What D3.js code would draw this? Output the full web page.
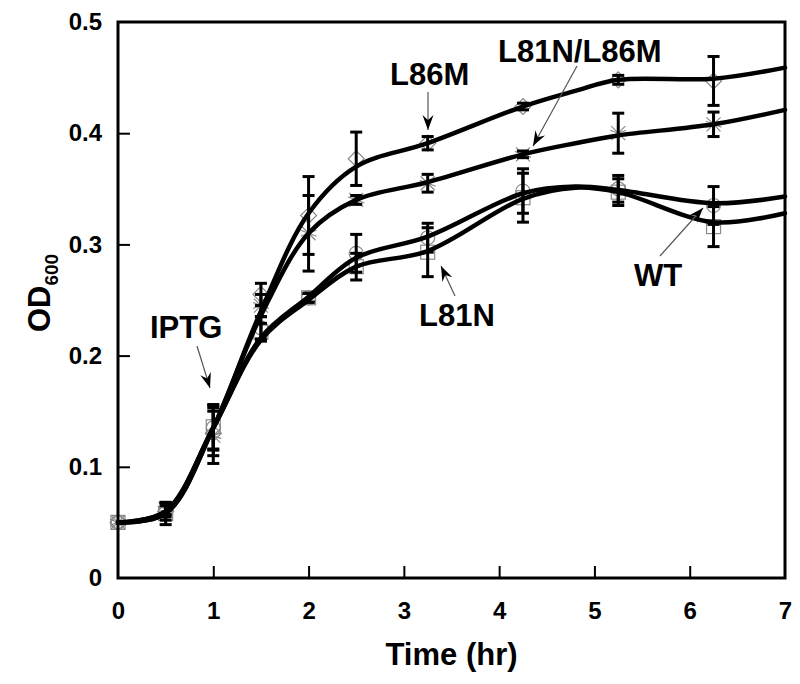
<!DOCTYPE html>
<html>
<head>
<meta charset="utf-8">
<script src="https://cdn.jsdelivr.net/npm/d3@7"></script>
<style>
  html, body { margin: 0; padding: 0; background: #fff; }
  svg { display: block; font-family: "Liberation Sans", Arial, sans-serif; }
</style>
</head>
<body>
<svg id="chart" width="800" height="684"></svg>
<script>
// ---------- data ----------
const times = [0, 0.5, 1, 1.5, 2, 2.5, 3.25, 4.25, 5.25, 6.25];

const l86m      = [0.05, 0.060, 0.130, 0.255, 0.326, 0.377, 0.391, 0.424, 0.448, 0.447];
const l86mErr   = [0.000, 0.005, 0.020, 0.010, 0.035, 0.024, 0.006, 0.003, 0.004, 0.022];

const dbl       = [0.05, 0.062, 0.128, 0.245, 0.310, 0.340, 0.355, 0.381, 0.400, 0.408];
const dblErr    = [0.000, 0.005, 0.025, 0.010, 0.034, 0.004, 0.008, 0.003, 0.018, 0.011];

const wt        = [0.05, 0.060, 0.135, 0.225, 0.252, 0.292, 0.306, 0.348, 0.350, 0.335];
const wtErr     = [0.000, 0.008, 0.020, 0.010, 0.004, 0.017, 0.013, 0.020, 0.012, 0.017];

const l81n      = [0.05, 0.058, 0.136, 0.221, 0.252, 0.280, 0.293, 0.342, 0.347, 0.316];
const l81nErr   = [0.000, 0.010, 0.020, 0.008, 0.004, 0.012, 0.022, 0.022, 0.012, 0.018];

// smooth fitted curves
const fitTimes  = [0, 0.5, 1, 1.5, 2, 2.5, 3.25, 4.25, 4.8, 5.25, 6.25, 7];
const l86mFit   = [0.05, 0.058, 0.135, 0.240, 0.328, 0.370, 0.391, 0.424, 0.438, 0.448, 0.449, 0.459];
const dblFit    = [0.05, 0.058, 0.135, 0.236, 0.310, 0.340, 0.356, 0.381, 0.391, 0.398, 0.408, 0.421];
const wtFit     = [0.05, 0.060, 0.135, 0.216, 0.253, 0.288, 0.307, 0.346, 0.352, 0.349, 0.337, 0.343];
const l81nFit   = [0.05, 0.060, 0.135, 0.214, 0.250, 0.280, 0.294, 0.341, 0.351, 0.347, 0.320, 0.328];

const xTicks = [0, 1, 2, 3, 4, 5, 6, 7];
const yTicks = [0, 0.1, 0.2, 0.3, 0.4, 0.5];

const annotations = [
  { label: "L86M",      tx: 390, ty: 85,  x1: 428, y1: 92,  x2: 428, y2: 130 },
  { label: "L81N/L86M", tx: 498, ty: 62,  x1: 577, y1: 66,  x2: 533, y2: 146 },
  { label: "IPTG",      tx: 150, ty: 338, x1: 197, y1: 346, x2: 210, y2: 388 },
  { label: "L81N",      tx: 419, ty: 326, x1: 455, y1: 296, x2: 441, y2: 266 },
  { label: "WT",        tx: 634, ty: 286, x1: 660, y1: 256, x2: 703, y2: 208 }
];

// ---------- layout ----------
const svg = d3.select("#chart");
const L = 118, R = 785, T = 22, B = 578;
const x = d3.scaleLinear().domain([0, 7]).range([L, R]);
const y = d3.scaleLinear().domain([0, 0.5]).range([B, T]);

const series = [
  { name: "L86M", vals: l86m, err: l86mErr, fit: l86mFit, shape: "diamond" },
  { name: "L81N/L86M", vals: dbl, err: dblErr, fit: dblFit, shape: "x" },
  { name: "WT", vals: wt, err: wtErr, fit: wtFit, shape: "circle" },
  { name: "L81N", vals: l81n, err: l81nErr, fit: l81nFit, shape: "square" }
];

// markers (grey, behind)
const mk = svg.append("g").attr("fill", "none").attr("stroke", "#8a8a8a").attr("stroke-width", 1.2);
series.forEach(s => {
  times.forEach((t, i) => {
    const cx = x(t), cy = y(s.vals[i]);
    if (s.shape === "diamond") {
      mk.append("path").attr("d", `M${cx},${cy-8}L${cx+8},${cy}L${cx},${cy+8}L${cx-8},${cy}Z`);
    } else if (s.shape === "square") {
      mk.append("rect").attr("x", cx-7).attr("y", cy-7).attr("width", 14).attr("height", 14);
    } else if (s.shape === "circle") {
      mk.append("circle").attr("cx", cx).attr("cy", cy).attr("r", 7);
    } else {
      mk.append("path").attr("d", `M${cx-7},${cy-7}L${cx+7},${cy+7}M${cx-7},${cy+7}L${cx+7},${cy-7}M${cx-8},${cy-3}L${cx+8},${cy+3}M${cx-8},${cy+3}L${cx+8},${cy-3}`);
    }
  });
});

// fitted curves
const line = d3.line().x(d => x(d[0])).y(d => y(d[1])).curve(d3.curveCatmullRom.alpha(0.5));
series.forEach(s => {
  svg.append("path")
    .attr("d", line(fitTimes.map((t, i) => [t, s.fit[i]])))
    .attr("fill", "none").attr("stroke", "#000").attr("stroke-width", 4.5)
    .attr("stroke-linecap", "round");
});

// error bars
const eb = svg.append("g").attr("stroke", "#000").attr("stroke-width", 3);
series.forEach(s => {
  times.forEach((t, i) => {
    const e = s.err[i];
    if (!e) return;
    const cx = x(t), y1 = y(s.vals[i] + e), y2 = y(s.vals[i] - e);
    eb.append("line").attr("x1", cx).attr("x2", cx).attr("y1", y1).attr("y2", y2);
    eb.append("line").attr("x1", cx-6).attr("x2", cx+6).attr("y1", y1).attr("y2", y1);
    eb.append("line").attr("x1", cx-6).attr("x2", cx+6).attr("y1", y2).attr("y2", y2);
  });
});

// axes (inward ticks)
const xAxis = d3.axisBottom(x).tickValues(xTicks).tickSize(-12).tickPadding(24).tickFormat(d3.format("d"));
const yAxis = d3.axisLeft(y).tickValues(yTicks).tickSize(-12).tickPadding(16).tickFormat(d => d === 0 ? "0" : d3.format(".1f")(d));

const gx = svg.append("g").attr("transform", `translate(0,${B})`).call(xAxis);
const gy = svg.append("g").attr("transform", `translate(${L},0)`).call(yAxis);
[gx, gy].forEach(g => {
  g.select(".domain").remove();
  g.selectAll(".tick line").attr("stroke", "#000").attr("stroke-width", 2);
  g.selectAll(".tick text").attr("fill", "#000").attr("font-size", 24).attr("font-weight", "bold")
    .attr("font-family", "Liberation Sans, Arial, sans-serif");
});
gx.selectAll(".tick").filter(d => d === 0 || d === 7).select("line").remove();
gy.selectAll(".tick").filter(d => d === 0 || d === 0.5).select("line").remove();

// frame
svg.append("rect").attr("x", L).attr("y", T).attr("width", R - L).attr("height", B - T)
  .attr("fill", "none").attr("stroke", "#000").attr("stroke-width", 3);

// axis titles
svg.append("text").attr("x", (L + R) / 2).attr("y", 665).attr("text-anchor", "middle")
  .attr("font-size", 31).attr("font-weight", "bold").text("Time (hr)");

const yt = svg.append("text").attr("transform", "translate(50,293) rotate(-90)")
  .attr("text-anchor", "middle").attr("font-size", 31).attr("font-weight", "bold");
yt.append("tspan").text("OD");
yt.append("tspan").attr("font-size", 19).attr("dy", 8).text("600");

// annotations
const defs = svg.append("defs");
defs.append("marker").attr("id", "arrow").attr("viewBox", "-16 -6 18 12")
  .attr("refX", 0).attr("refY", 0).attr("markerWidth", 18).attr("markerHeight", 12)
  .attr("markerUnits", "userSpaceOnUse").attr("orient", "auto")
  .append("path").attr("d", "M0,0L-15,-5.5L-10,0L-15,5.5Z").attr("fill", "#000");

annotations.forEach(a => {
  svg.append("line").attr("x1", a.x1).attr("y1", a.y1).attr("x2", a.x2).attr("y2", a.y2)
    .attr("stroke", "#555").attr("stroke-width", 1.2).attr("marker-end", "url(#arrow)");
  svg.append("text").attr("x", a.tx).attr("y", a.ty).attr("font-size", 31)
    .attr("font-weight", "bold").text(a.label);
});
</script>
</body>
</html>
